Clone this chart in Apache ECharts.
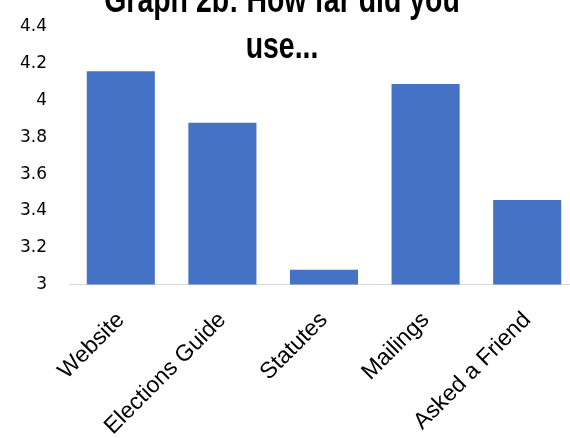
<!DOCTYPE html>
<html>
<head>
<meta charset="utf-8">
<script src="https://cdn.jsdelivr.net/npm/echarts@6/dist/echarts.min.js"></script>
<style>
  html, body { margin: 0; padding: 0; background: #fff; }
  #chart { width: 570px; height: 438px; }
</style>
</head>
<body>
<div id="chart"></div>
<script>
// Survey sources and their average usage scores
const categories = ['Website', 'Elections Guide', 'Statutes', 'Mailings', 'Asked a Friend'];
const scores = [4.16, 3.88, 3.08, 4.09, 3.46];
const yTicks = { min: 3, max: 4.4, step: 0.2 };
const chartTitle = 'Graph 2b: How far did you\nuse...';

const chart = echarts.init(document.getElementById('chart'), null, { renderer: 'canvas' });
chart.setOption({
  animation: false,
  backgroundColor: '#ffffff',
  // Condensed bold heading: a bold face squeezed horizontally
  graphic: [{
    type: 'text',
    x: 282,
    y: -21,
    scaleX: 0.79,
    z: 10,
    style: {
      text: chartTitle,
      align: 'center',
      verticalAlign: 'top',
      fontFamily: '"Liberation Sans", Arial, sans-serif',
      fontWeight: 'bold',
      fontSize: 36,
      lineHeight: 46,
      fill: '#000000'
    }
  }],
  grid: {
    left: 70, top: 27, width: 508, height: 257.5,
    containLabel: false,
    outerBoundsMode: 'none'
  },
  xAxis: {
    type: 'category',
    data: categories,
    axisLine: { show: true, lineStyle: { color: '#d9d9d9', width: 1 } },
    axisTick: { show: false },
    axisLabel: {
      rotate: 45,
      interval: 0,
      margin: 32,
      fontFamily: '"Liberation Sans", Arial, sans-serif',
      fontSize: 23,
      color: '#000000'
    }
  },
  yAxis: {
    type: 'value',
    min: yTicks.min,
    max: yTicks.max,
    interval: yTicks.step,
    axisLine: { show: false },
    axisTick: { show: false },
    splitLine: { show: false },
    axisLabel: {
      margin: 23,
      fontFamily: '"DejaVu Sans", sans-serif',
      fontSize: 17,
      color: '#000000',
      formatter: v => String(Math.round(v * 10) / 10)
    }
  },
  series: [{
    type: 'bar',
    data: scores,
    barCategoryGap: '33%',
    itemStyle: { color: '#4472c4' }
  }]
});
</script>
</body>
</html>
